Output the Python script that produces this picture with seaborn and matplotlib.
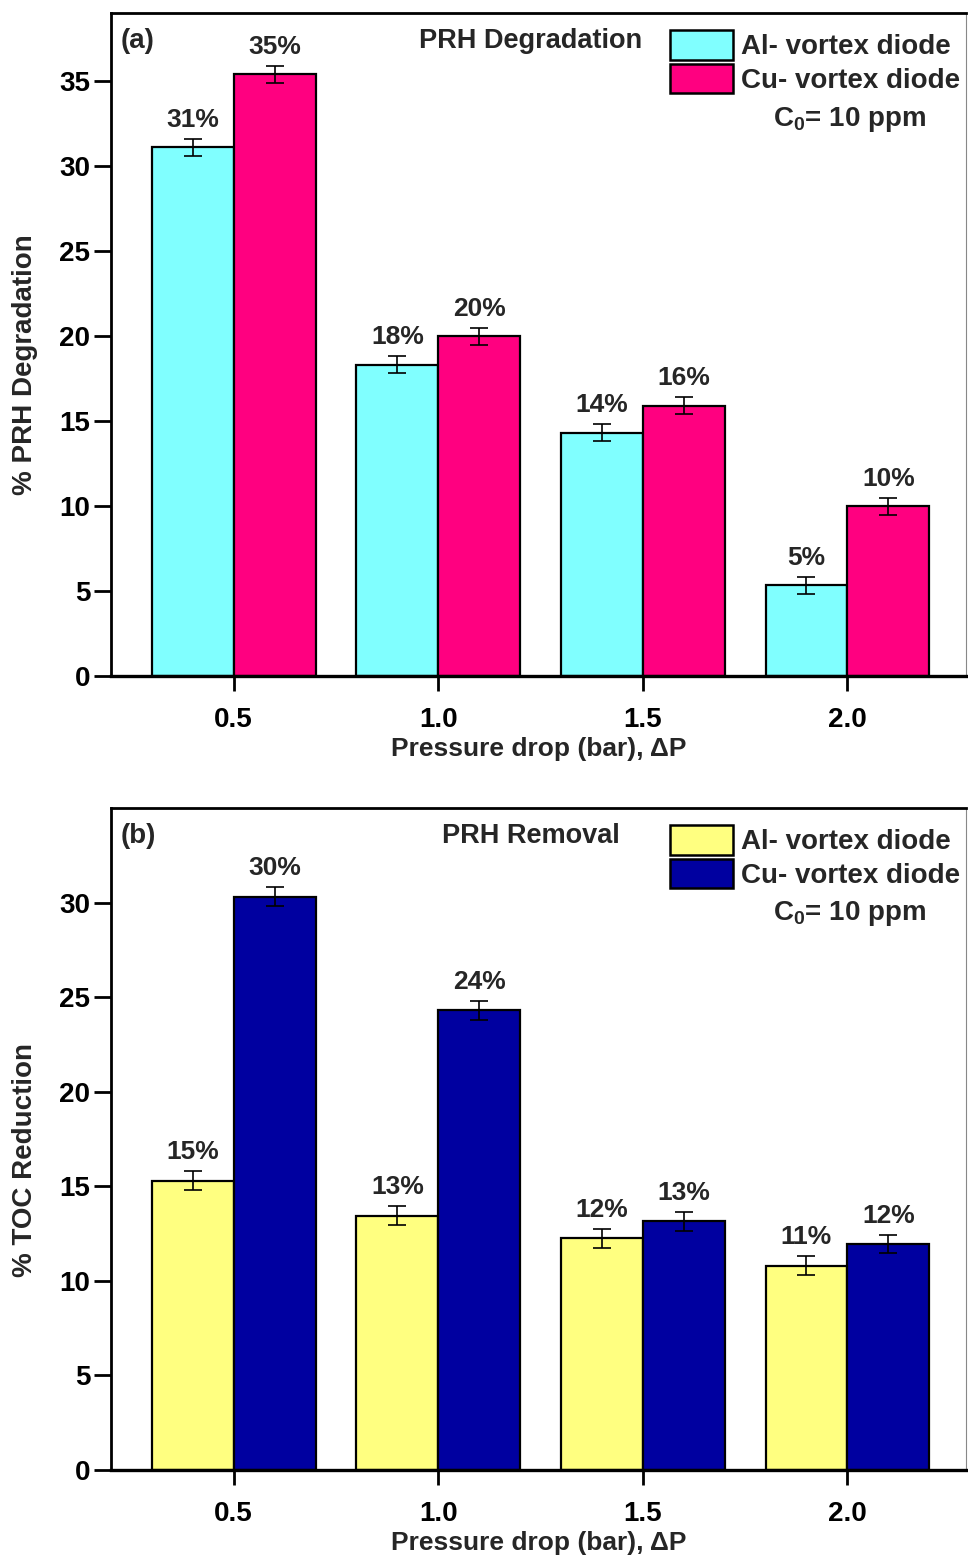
import numpy as np
import pandas as pd
import matplotlib
matplotlib.use("Agg")
import matplotlib.pyplot as plt
from matplotlib.patches import Patch
import seaborn as sns

# ---- data ----
pressure = [0.5, 1.0, 1.5, 2.0]
diodes = ["Al- vortex diode", "Cu- vortex diode"]

deg_al = [31.1, 18.3, 14.3, 5.35]
deg_cu = [35.4, 20.0, 15.9, 10.0]
deg_al_err = [0.5, 0.5, 0.5, 0.5]
deg_cu_err = [0.5, 0.5, 0.5, 0.5]
deg_al_lbl = ["31%", "18%", "14%", "5%"]
deg_cu_lbl = ["35%", "20%", "16%", "10%"]

toc_al = [15.3, 13.45, 12.25, 10.8]
toc_cu = [30.3, 24.3, 13.15, 11.95]
toc_al_err = [0.5, 0.5, 0.5, 0.5]
toc_cu_err = [0.5, 0.5, 0.5, 0.5]
toc_al_lbl = ["15%", "13%", "12%", "11%"]
toc_cu_lbl = ["30%", "24%", "13%", "12%"]

deg_colors = ["#80FFFF", "#FF0080"]
toc_colors = ["#FFFF80", "#0000A0"]

sns.set_theme(style="ticks")
plt.rcParams["font.family"] = ["Liberation Sans", "DejaVu Sans"]
plt.rcParams["mathtext.fontset"] = "custom"
plt.rcParams["mathtext.rm"] = "Liberation Sans:bold"
plt.rcParams["mathtext.bf"] = "Liberation Sans:bold"

W, H = 968, 1565
fig = plt.figure(figsize=(W / 100, H / 100), dpi=100)


def px_axes(left, top, right, bottom):
    return fig.add_axes([left / W, 1 - bottom / H, (right - left) / W, (bottom - top) / H])


def panel(ax, al, cu, al_err, cu_err, al_lbl, cu_lbl, colors, ymax, yticks,
          ylabel, tag, title):
    df = pd.DataFrame({
        "pressure": pressure * 2,
        "value": al + cu,
        "diode": [diodes[0]] * len(pressure) + [diodes[1]] * len(pressure),
    })
    sns.barplot(data=df, x="pressure", y="value", hue="diode", native_scale=True,
                palette=colors, edgecolor="black", linewidth=1.6, width=0.8,
                errorbar=None, saturation=1, ax=ax, zorder=2)
    if ax.get_legend() is not None:
        ax.get_legend().remove()

    for cont, errs, lbls in zip(ax.containers, [al_err, cu_err], [al_lbl, cu_lbl]):
        xs = [p.get_x() + p.get_width() / 2 for p in cont.patches]
        hs = [p.get_height() for p in cont.patches]
        ax.errorbar(xs, hs, yerr=errs, fmt="none", ecolor="black",
                    elinewidth=1.2, capsize=6.5, capthick=1.2, zorder=3)
        for x, h, e, t in zip(xs, hs, errs, lbls):
            ax.annotate(t, (x, h + e), xytext=(0, 5), textcoords="offset points",
                        ha="center", va="bottom", fontsize=19, fontweight="bold")

    ax.set_xlim(0.2, 2.29)
    ax.set_ylim(0, ymax)
    ax.set_xticks(pressure)
    ax.set_xticklabels([f"{p:.1f}" for p in pressure], fontsize=20,
                       fontweight="bold")
    ax.set_yticks(yticks)
    ax.set_yticklabels([str(v) for v in yticks], fontsize=20, fontweight="bold")
    ax.tick_params(axis="x", direction="out", length=11, width=2, pad=11, colors="black")
    ax.tick_params(axis="y", direction="out", length=12, width=2, pad=3, colors="black")
    ax.set_xlabel("Pressure drop (bar), ΔP", fontsize=19, fontweight="bold",
                  labelpad=3)
    ax.set_ylabel(ylabel, fontsize=20, fontweight="bold")
    ax.yaxis.set_label_coords(-0.085, 0.469)

    ax.spines["bottom"].set_linewidth(2.4)
    ax.spines["left"].set_linewidth(2.0)
    ax.spines["top"].set_linewidth(2.0)
    ax.spines["right"].set_linewidth(0.8)
    ax.spines["right"].set_color("#888888")
    for s in ["bottom", "left", "top"]:
        ax.spines[s].set_color("black")

    ax.text(0.011, 0.978, tag, transform=ax.transAxes, ha="left", va="top",
            fontsize=20, fontweight="bold")
    ax.text(0.491, 0.978, title, transform=ax.transAxes, ha="center", va="top",
            fontsize=19.5, fontweight="bold")

    handles = [Patch(facecolor=c, edgecolor="black", linewidth=1.8) for c in colors]
    ax.legend(handles, diodes, loc="upper left", bbox_to_anchor=(0.654, 0.974),
              frameon=False, prop={"weight": "bold", "size": 20},
              handlelength=2.25, handleheight=1.25, handletextpad=0.3,
              labelspacing=0.12, borderpad=0, borderaxespad=0)
    ax.text(0.864, 0.840, r"C$_{0}$= 10 ppm", transform=ax.transAxes, ha="center",
            va="center", fontsize=20, fontweight="bold")


ax1 = px_axes(111, 13, 966, 676)
panel(ax1, deg_al, deg_cu, deg_al_err, deg_cu_err, deg_al_lbl, deg_cu_lbl,
      deg_colors, 39, list(range(0, 36, 5)), "% PRH Degradation", "(a)",
      "PRH Degradation")

ax2 = px_axes(111, 808, 966, 1470)
panel(ax2, toc_al, toc_cu, toc_al_err, toc_cu_err, toc_al_lbl, toc_cu_lbl,
      toc_colors, 35, list(range(0, 31, 5)), "% TOC Reduction", "(b)",
      "PRH Removal")

fig.savefig("out.png", dpi=100)
